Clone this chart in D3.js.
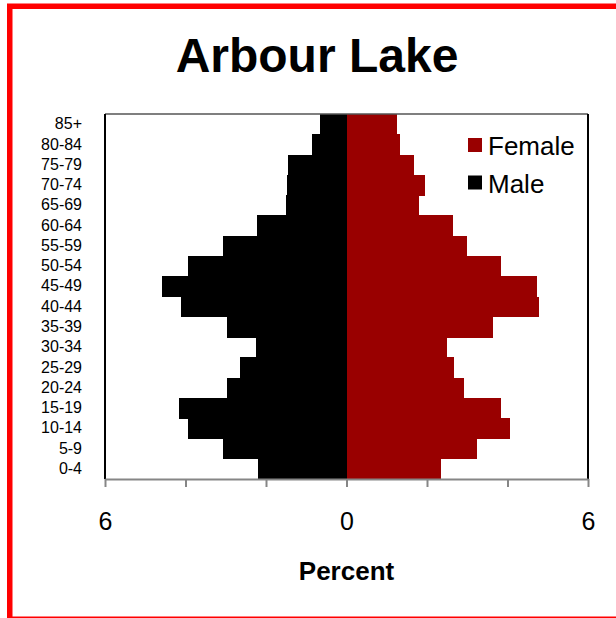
<!DOCTYPE html>
<html>
<head>
<meta charset="utf-8">
<script src="https://cdn.jsdelivr.net/npm/d3@7"></script>
<style>
  body { margin: 0; background: #fff; }
  svg { display: block; }
</style>
</head>
<body>
<svg id="chart" width="616" height="618"></svg>
<script>
// population pyramid, percent of total by 5 yr age group
const ageGroups = ['0-4', '5-9', '10-14', '15-19', '20-24', '25-29', '30-34', '35-39', '40-44',
    '45-49', '50-54', '55-59', '60-64', '65-69', '70-74', '75-79', '80-84', '85+'];
const male = [2.19, 3.07, 3.94, 4.16, 2.97, 2.65, 2.24, 2.97, 4.12,
    4.58, 3.94, 3.06, 2.23, 1.50, 1.48, 1.45, 0.85, 0.67];
const female = [2.36, 3.23, 4.06, 3.83, 2.92, 2.68, 2.50, 3.65, 4.78,
    4.74, 3.83, 2.99, 2.64, 1.81, 1.94, 1.67, 1.32, 1.26];
const xTicks = [-6, -4, -2, 0, 2, 4, 6];
const xLabelled = [-6, 0, 6];
const seriesNames = ['Female', 'Male'];

const colors = { Female: '#990000', Male: '#000000' };
const font = 'Arial, "Liberation Sans", sans-serif';

const svg = d3.select('#chart');
const margin = { top: 114, right: 28, bottom: 139, left: 105 };
const width = 616, height = 618;

// outer red frame
svg.append('rect')
    .attr('x', 9.75).attr('y', 6.25)
    .attr('width', 700).attr('height', 613)
    .attr('fill', 'none')
    .attr('stroke', '#ff0000')
    .attr('stroke-width', 5.5);

svg.append('text')
    .attr('x', 317).attr('y', 72)
    .attr('text-anchor', 'middle')
    .attr('font-family', font)
    .attr('font-weight', 'bold')
    .attr('font-size', 48)
    .text('Arbour Lake');

const x = d3.scaleLinear()
    .domain([-6, 6])
    .range([margin.left, width - margin.right]);

const y = d3.scaleBand()
    .domain(ageGroups.slice().reverse())
    .range([margin.top, height - margin.bottom])
    .padding(0);

const rows = ageGroups.map((g, i) => ({ group: g, male: male[i], female: female[i] }));

// bars touch each other, crispEdges avoids the seams
svg.append('g').selectAll('rect')
    .data(rows)
    .join('rect')
    .attr('x', d => x(-d.male))
    .attr('y', d => y(d.group))
    .attr('width', d => x(0) - x(-d.male))
    .attr('height', y.bandwidth() + 0.5)
    .attr('shape-rendering', 'crispEdges')
    .attr('fill', colors.Male);

svg.append('g').selectAll('rect')
    .data(rows)
    .join('rect')
    .attr('x', x(0))
    .attr('y', d => y(d.group))
    .attr('width', d => x(d.female) - x(0))
    .attr('height', y.bandwidth() + 0.5)
    .attr('shape-rendering', 'crispEdges')
    .attr('fill', colors.Female);

// plot frame
const [y0, y1] = y.range();
svg.append('line')
    .attr('x1', x(-6)).attr('x2', x(6))
    .attr('y1', y0).attr('y2', y0)
    .attr('stroke', '#555').attr('stroke-width', 1.5);
svg.append('line')
    .attr('x1', x(-6)).attr('x2', x(-6))
    .attr('y1', y0).attr('y2', y1)
    .attr('stroke', '#000').attr('stroke-width', 2);
svg.append('line')
    .attr('x1', x(6)).attr('x2', x(6))
    .attr('y1', y0).attr('y2', y1)
    .attr('stroke', '#000').attr('stroke-width', 2);

// y labels
svg.append('g')
    .attr('transform', `translate(${margin.left},0)`)
    .call(d3.axisLeft(y).tickSize(0).tickPadding(23))
    .call(g => g.select('.domain').remove())
    .call(g => g.selectAll('text')
        .attr('font-family', font)
        .attr('font-size', 16)
        .attr('fill', '#000'));

// x axis
svg.append('g')
    .attr('transform', `translate(0,${y1})`)
    .call(d3.axisBottom(x)
        .tickValues(xTicks)
        .tickSize(8)
        .tickPadding(25)
        .tickSizeOuter(0)
        .tickFormat(d => xLabelled.includes(d) ? Math.abs(d) : ''))
    .call(g => g.select('.domain').attr('stroke', '#868686').attr('stroke-width', 2))
    .call(g => g.selectAll('.tick line').attr('stroke', '#868686').attr('stroke-width', 2))
    .call(g => g.selectAll('text')
        .attr('font-family', font)
        .attr('font-size', 25)
        .attr('fill', '#000'));

svg.append('text')
    .attr('x', x(0)).attr('y', 580)
    .attr('text-anchor', 'middle')
    .attr('font-family', font)
    .attr('font-weight', 'bold')
    .attr('font-size', 26)
    .text('Percent');

// legend
const legend = svg.append('g')
    .selectAll('g')
    .data(seriesNames)
    .join('g')
    .attr('transform', (d, i) => `translate(468,${138 + i * 37.5})`);
legend.append('rect')
    .attr('width', 14).attr('height', 14)
    .attr('fill', d => colors[d]);
legend.append('text')
    .attr('x', 20).attr('y', 17)
    .attr('font-family', font)
    .attr('font-size', 26)
    .text(d => d);
</script>
</body>
</html>
